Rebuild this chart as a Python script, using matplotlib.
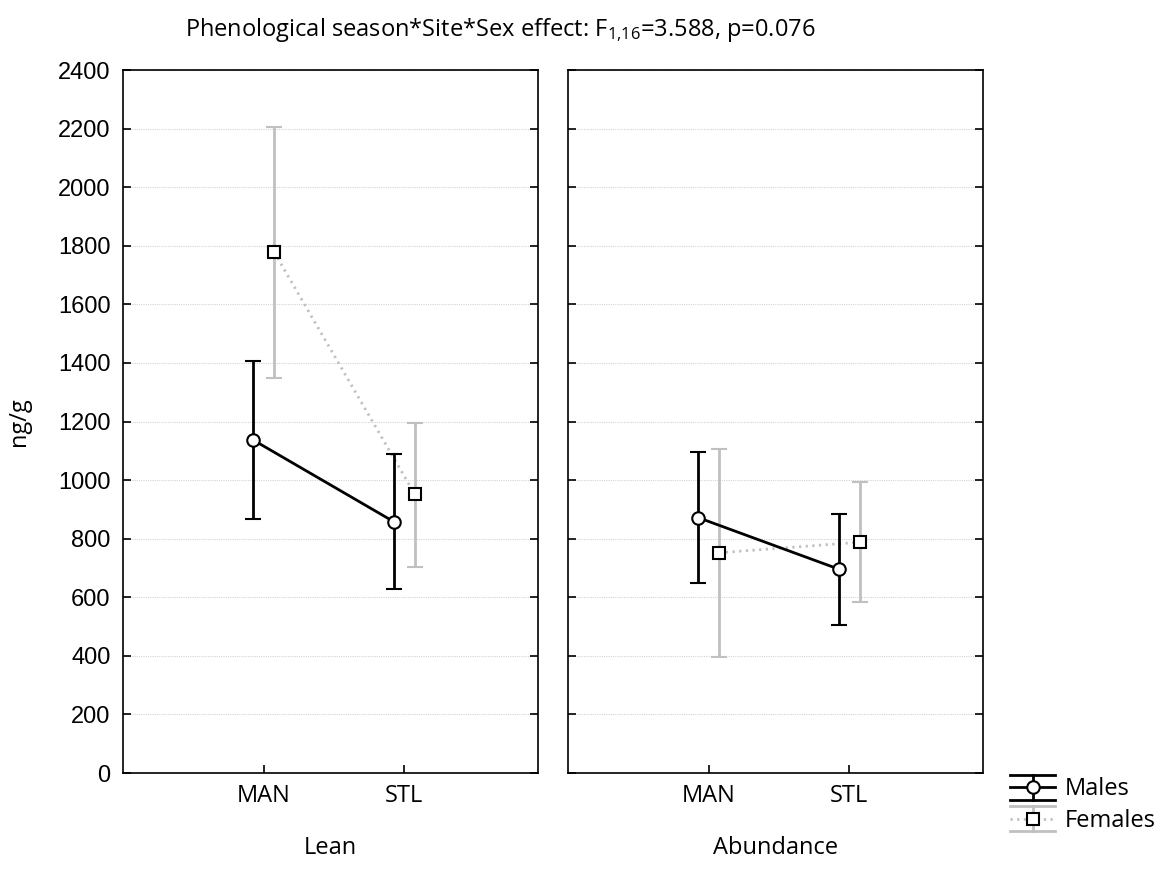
import matplotlib
matplotlib.use("Agg")
import matplotlib.pyplot as plt
from matplotlib.legend_handler import HandlerBase
from matplotlib.lines import Line2D
import numpy as np

# Sites on the x axis, one panel per phenological season
sites = ["MAN", "STL"]
seasons = ["Lean", "Abundance"]

# Group means and confidence limits (ng/g)
males_mean = {"Lean": [1137, 858], "Abundance": [872, 696]}
males_low = {"Lean": [866, 629], "Abundance": [648, 506]}
males_high = {"Lean": [1408, 1088], "Abundance": [1096, 885]}

females_mean = {"Lean": [1778, 951], "Abundance": [752, 788]}
females_low = {"Lean": [1350, 704], "Abundance": [397, 584]}
females_high = {"Lean": [2205, 1196], "Abundance": [1107, 995]}

y_ticks = list(range(0, 2401, 200))

text_font = "Open Sans"
num_font = "Liberation Sans"
grey = "#c0c0c0"
LW = 2.0
DOTS = (0, (0.8, 1.6))

plt.rcParams["mathtext.fontset"] = "custom"
plt.rcParams["mathtext.rm"] = text_font
plt.rcParams["mathtext.it"] = text_font


class ErrorbarKey(HandlerBase):
    """Legend key: vertical bar with full-width caps, a connecting line and the marker."""

    def __init__(self, color, linestyle, marker):
        super().__init__()
        self.color = color
        self.linestyle = linestyle
        self.marker = marker

    def create_artists(self, legend, orig_handle, xdescent, ydescent,
                       width, height, fontsize, trans):
        x0, x1 = -xdescent, -xdescent + width
        y0, y1 = -ydescent, -ydescent + height
        xc, yc = (x0 + x1) / 2, (y0 + y1) / 2
        arts = [
            Line2D([x0, x1], [yc, yc], color=self.color, lw=LW, ls=self.linestyle),
            Line2D([xc, xc], [y0, y1], color=self.color, lw=LW),
            Line2D([x0, x1], [y0, y0], color=self.color, lw=LW),
            Line2D([x0, x1], [y1, y1], color=self.color, lw=LW),
            Line2D([xc], [yc], marker=self.marker, markersize=9,
                   markerfacecolor="white", markeredgecolor="black",
                   markeredgewidth=1.5, ls="none"),
        ]
        for a in arts:
            a.set_transform(trans)
        return arts


fig = plt.figure(figsize=(11.68, 8.71), dpi=100)
ax_l = fig.add_axes([0.1053, 0.1125, 0.3553, 0.8071])
ax_r = fig.add_axes([0.4863, 0.1125, 0.3553, 0.8071])

x = np.arange(len(sites))
offset = 0.075
handles = None
for ax, season in zip([ax_l, ax_r], seasons):
    mm = np.array(males_mean[season])
    fm = np.array(females_mean[season])
    m_err = [mm - np.array(males_low[season]), np.array(males_high[season]) - mm]
    f_err = [fm - np.array(females_low[season]), np.array(females_high[season]) - fm]

    hf = ax.errorbar(x + offset, fm, yerr=f_err, color=grey, ecolor=grey,
                     linestyle=DOTS, linewidth=LW, elinewidth=LW,
                     capsize=5.5, capthick=LW, marker="s", markersize=8.5,
                     markerfacecolor="white", markeredgecolor="black",
                     markeredgewidth=1.5, zorder=3)
    hm = ax.errorbar(x - offset, mm, yerr=m_err, color="black", ecolor="black",
                     linestyle="-", linewidth=LW, elinewidth=LW,
                     capsize=5.5, capthick=LW, marker="o", markersize=9,
                     markerfacecolor="white", markeredgecolor="black",
                     markeredgewidth=1.5, zorder=4)
    if handles is None:
        handles = [hm, hf]

    ax.set_xlim(-1, 1.95)
    ax.set_ylim(0, 2400)
    ax.set_yticks(y_ticks)
    ax.set_xticks(x)
    ax.set_xticklabels(sites, fontfamily=text_font, fontsize=17)
    ax.set_xlabel(season, fontfamily=text_font, fontsize=17, labelpad=20)
    ax.grid(axis="y", color="#d4d4d4", linestyle=(0, (1, 1)), linewidth=0.8)
    ax.set_axisbelow(True)
    ax.tick_params(axis="both", direction="in", length=6, width=1.2,
                   left=True, right=True, top=False, bottom=True)
    ax.tick_params(axis="x", pad=8)
    for s in ax.spines.values():
        s.set_linewidth(1.2)
        s.set_color("black")

for lbl in ax_l.get_yticklabels():
    lbl.set_fontfamily(num_font)
    lbl.set_fontsize(17)
ax_l.tick_params(axis="y", pad=9)
ax_r.tick_params(axis="y", labelleft=False)
ax_l.set_ylabel("ng/g", fontfamily=text_font, fontsize=17, labelpad=19)

fig.text(0.428, 0.966,
         r"Phenological season*Site*Sex effect: F$_{1{,}16}$=3.588, p=0.076",
         ha="center", va="center", fontfamily=text_font, fontsize=17)

leg = fig.legend(handles, ["Males", "Females"], loc="lower left",
                 bbox_to_anchor=(0.857, 0.033), frameon=False,
                 prop={"family": text_font, "size": 17},
                 handler_map={handles[0]: ErrorbarKey("black", "-", "o"),
                              handles[1]: ErrorbarKey(grey, DOTS, "s")},
                 handlelength=1.9, handleheight=1.25,
                 handletextpad=0.4, labelspacing=0.22, borderaxespad=0)

fig.savefig("out.png", dpi=100)
